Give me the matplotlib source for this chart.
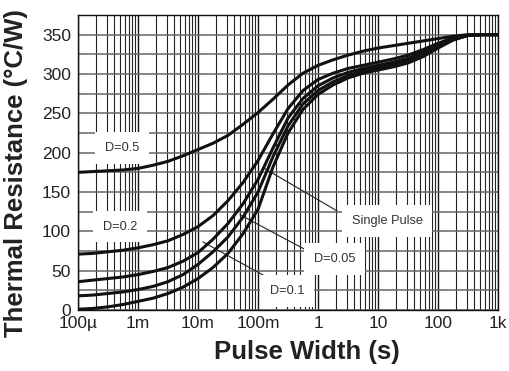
import numpy as np
import matplotlib
matplotlib.use("Agg")
import matplotlib.pyplot as plt
from matplotlib.ticker import FixedLocator, LogLocator, NullFormatter

plt.rcParams['font.family'] = ['Liberation Sans', 'DejaVu Sans']

log_t = [-4, -3.75, -3.5, -3.25, -3, -2.75, -2.5, -2.25, -2, -1.75, -1.5,
         -1.25, -1, -0.75, -0.5, -0.25, 0, 0.25, 0.5, 0.75, 1, 1.25, 1.5,
         1.75, 2, 2.25, 2.5, 2.75, 3]

# thermal resistance (degC/W) for each duty cycle
r_d05 = [175, 176, 177, 178, 180, 184, 189, 196, 204, 212, 222,
         236, 251, 268, 286, 301, 311, 318, 324, 329, 333, 336, 339,
         342, 345, 348, 350, 350, 350]
r_d02 = [71, 72, 74, 76, 79, 83, 88, 96, 106, 120, 139,
         162, 190, 224, 256, 279, 293, 301, 307, 311, 315, 319, 324,
         331, 339, 346, 349, 350, 350]
r_d01 = [36, 38, 40, 42, 45, 49, 54, 62, 73, 90, 110,
         135, 166, 206, 244, 269, 285, 295, 302, 307, 311, 315, 320,
         328, 337, 345, 349, 350, 350]
r_d005 = [18, 19, 21, 23, 26, 30, 36, 45, 58, 74, 93,
          118, 150, 195, 234, 262, 279, 290, 298, 304, 308, 312, 317,
          325, 335, 344, 349, 350, 350]
r_single = [1, 2, 4, 7, 11, 15, 21, 29, 40, 54, 72,
            97, 128, 182, 225, 255, 274, 286, 295, 301, 305, 309, 314,
            322, 333, 343, 349, 350, 350]

xtick_vals = [1e-4, 1e-3, 1e-2, 1e-1, 1, 10, 100, 1000]
xtick_labels = ['100µ', '1m', '10m', '100m', '1', '10', '100', '1k']
ytick_vals = [0, 50, 100, 150, 200, 250, 300, 350]

t = 10.0 ** np.array(log_t)

fig = plt.figure(figsize=(5.1, 3.71), dpi=100)
ax = fig.add_axes([0.153, 0.1644, 0.8235, 0.7952])

ax.set_xscale('log')
ax.set_xlim(1e-4, 1e3)
ax.set_ylim(0, 375)

# grid like the datasheet: every decade subdivision, every 25 degC/W
ax.xaxis.set_minor_locator(LogLocator(base=10, subs=np.arange(2, 10)))
ax.xaxis.set_minor_formatter(NullFormatter())
ax.yaxis.set_minor_locator(FixedLocator(np.arange(0, 376, 25)))
ax.grid(True, which='major', axis='x', color='#111111', lw=1.0)
ax.grid(True, which='minor', axis='x', color='#222222', lw=0.8)
ax.grid(True, which='both', axis='y', color='#666666', lw=1.1)
ax.set_axisbelow(True)

for r in [r_d05, r_d02, r_d01, r_d005, r_single]:
    ax.plot(t, r, color='#111111', lw=2.2, solid_capstyle='round',
            solid_joinstyle='round', zorder=3)

# leader lines from the curves to the labels
ax.plot([10 ** -0.917, 10 ** 0.317], [181, 126], color='#222222', lw=0.8, zorder=2)
ax.plot([10 ** -1.3, 10 ** -0.217], [121, 77], color='#222222', lw=0.8, zorder=2)
ax.plot([10 ** -1.917, 10 ** -0.917], [86.5, 44.5], color='#222222', lw=0.8, zorder=2)

box = dict(facecolor='white', edgecolor='none', pad=7)
lab = dict(fontsize=9.2, color='#333333', ha='center', va='center', bbox=box, zorder=4)
ax.text(10 ** -3.27, 206, 'D=0.5', **lab)
ax.text(10 ** -3.3, 106, 'D=0.2', **lab)
ax.text(10 ** 1.15, 113, 'Single Pulse', **lab)
ax.text(10 ** 0.28, 65, 'D=0.05', **lab)
ax.text(10 ** -0.52, 24, 'D=0.1', **lab)

ax.set_xticks(xtick_vals)
ax.set_xticklabels(xtick_labels)
ax.set_yticks(ytick_vals)
ax.tick_params(axis='both', which='both', length=0, labelsize=12.5, colors='#222222')
ax.tick_params(axis='x', pad=4)
ax.tick_params(axis='y', pad=5)

for s in ax.spines.values():
    s.set_color('#111111')
    s.set_linewidth(1.0)

ax.set_xlabel('Pulse Width (s)', fontsize=18.5, fontweight='bold', color='#222222',
              va='center')
ax.xaxis.set_label_coords(0.545, -0.142)
ax.set_ylabel('Thermal Resistance (°C/W)', fontsize=18.5, fontweight='bold', color='#222222',
              va='center')
ax.yaxis.set_label_coords(-0.148, 0.464)

fig.savefig('out.png', dpi=100)
